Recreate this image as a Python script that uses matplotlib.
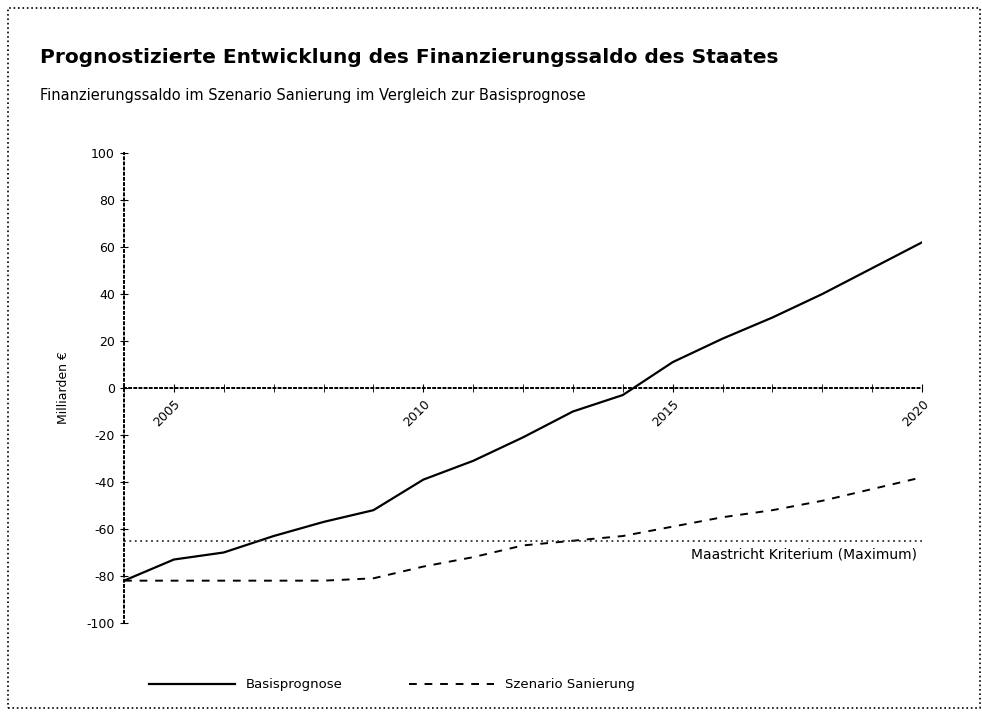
import matplotlib
matplotlib.use("Agg")
import matplotlib.pyplot as plt
from matplotlib.patches import Rectangle

years = list(range(2004, 2021))
basis = [-82, -73, -70, -63, -57, -52, -39, -31, -21, -10, -3, 11, 21, 30, 40, 51, 62]
szenario = [-82, -82, -82, -82, -82, -81, -76, -72, -67, -65, -63, -59, -55, -52, -48, -43, -38]
maastricht = -65
y_ticks = [100, 80, 60, 40, 20, 0, -20, -40, -60, -80, -100]
x_labels = [2005, 2010, 2015, 2020]

plt.rcParams["font.family"] = ["DejaVu Sans"]
plt.rcParams["axes.unicode_minus"] = False

fig = plt.figure(figsize=(9.82, 7.14), dpi=100)
ax = fig.add_axes([0.1263, 0.1275, 0.8127, 0.6582])

ax.plot(years, basis, color="black", lw=1.6, label="Basisprognose")
ax.plot(years, szenario, color="black", lw=1.4, ls=(0, (4, 4)), label="Szenario Sanierung")
ax.axhline(maastricht, color="#333333", lw=1.3, ls=(0, (1, 2)))
ax.text(2019.9, maastricht - 3, "Maastricht Kriterium (Maximum)", ha="right", va="top", fontsize=10)

# achsen durch den nullpunkt, gepunktet
ax.spines["left"].set_position(("data", 2004))
ax.spines["bottom"].set_position(("data", 0))
for side in ["left", "bottom"]:
    ax.spines[side].set_linestyle(":")
    ax.spines[side].set_linewidth(1.4)
ax.spines["top"].set_visible(False)
ax.spines["right"].set_visible(False)

ax.set_xlim(2004, 2020)
ax.set_ylim(-100, 100)
ax.set_yticks(y_ticks)
ax.set_xticks(years, minor=True)
ax.set_xticks(x_labels)
ax.set_xticklabels([str(x) for x in x_labels], rotation=45, ha="right",
                   rotation_mode="anchor", fontsize=9)
ax.tick_params(axis="y", labelsize=9, direction="inout", length=6)
ax.tick_params(axis="x", which="both", direction="inout", length=6)
ax.set_ylabel("Milliarden €", fontsize=9)
ax.yaxis.set_label_coords(-0.068, 0.5)

fig.text(0.041, 0.92, "Prognostizierte Entwicklung des Finanzierungssaldo des Staates",
         fontsize=14.5, fontweight="bold", va="center")
fig.text(0.041, 0.866, "Finanzierungssaldo im Szenario Sanierung im Vergleich zur Basisprognose",
         fontsize=10.5, va="center")

fig.legend(loc="lower left", bbox_to_anchor=(0.14, 0.015), ncol=2, frameon=False,
           fontsize=9.5, handlelength=6.5, columnspacing=5)

fig.patches.append(Rectangle((0.008, 0.008), 0.99, 0.981, transform=fig.transFigure,
                             fill=False, ls=":", lw=1.2, ec="black"))

fig.savefig("out.png", dpi=100)
